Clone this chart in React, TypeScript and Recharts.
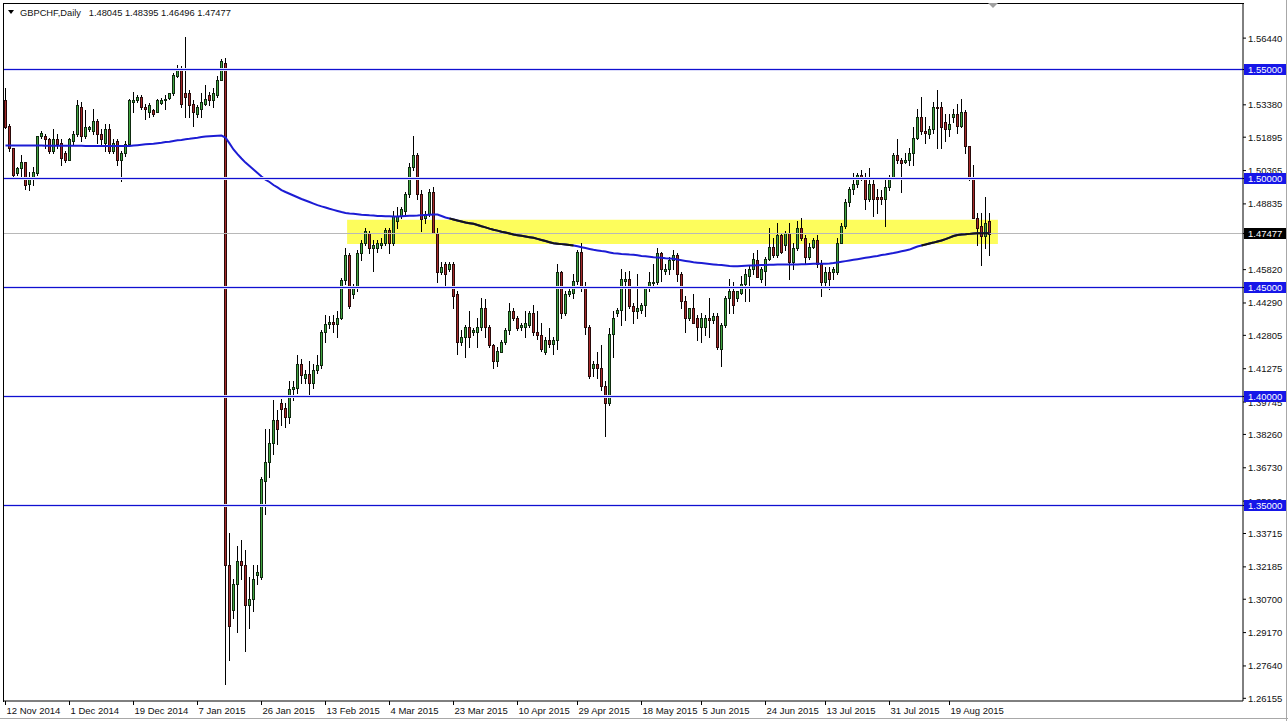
import React from 'react';
import { ComposedChart, Bar, Line, XAxis, YAxis, ReferenceLine, ReferenceArea } from 'recharts';

const FONT = '"Liberation Sans", Arial, sans-serif';

const symbolName = 'GBPCHF,Daily';

// daily bars, [open, high, low, close]
const candles: number[][] = [
  [1.5358, 1.5413, 1.5230, 1.5234], [1.5239, 1.5248, 1.5128, 1.5142], [1.5138, 1.5142, 1.5005, 1.5014], [1.5023, 1.5055, 1.5014, 1.5046], [1.5046, 1.5110, 1.5000, 1.5074],
  [1.5074, 1.5078, 1.4950, 1.4968], [1.4977, 1.5028, 1.4945, 1.5005], [1.5000, 1.5055, 1.4968, 1.5032], [1.5023, 1.5197, 1.5018, 1.5193], [1.5193, 1.5216, 1.5188, 1.5211],
  [1.5197, 1.5206, 1.5142, 1.5179], [1.5183, 1.5188, 1.5115, 1.5128], [1.5124, 1.5225, 1.5115, 1.5179], [1.5183, 1.5206, 1.5138, 1.5160], [1.5165, 1.5183, 1.5060, 1.5092],
  [1.5115, 1.5124, 1.5078, 1.5083], [1.5087, 1.5188, 1.5083, 1.5179], [1.5174, 1.5216, 1.5160, 1.5206], [1.5206, 1.5358, 1.5197, 1.5335], [1.5326, 1.5353, 1.5170, 1.5193],
  [1.5193, 1.5312, 1.5188, 1.5234], [1.5225, 1.5243, 1.5220, 1.5234], [1.5220, 1.5321, 1.5206, 1.5266], [1.5266, 1.5275, 1.5165, 1.5202], [1.5202, 1.5225, 1.5160, 1.5183],
  [1.5165, 1.5252, 1.5124, 1.5229], [1.5229, 1.5252, 1.5115, 1.5128], [1.5128, 1.5183, 1.5115, 1.5165], [1.5170, 1.5183, 1.5060, 1.5087], [1.5087, 1.5124, 1.4987, 1.5115],
  [1.5115, 1.5174, 1.5105, 1.5160], [1.5160, 1.5367, 1.5156, 1.5358], [1.5353, 1.5399, 1.5303, 1.5362], [1.5362, 1.5385, 1.5353, 1.5376], [1.5376, 1.5381, 1.5321, 1.5326],
  [1.5330, 1.5344, 1.5271, 1.5317], [1.5303, 1.5348, 1.5280, 1.5339], [1.5312, 1.5321, 1.5289, 1.5298], [1.5307, 1.5367, 1.5303, 1.5358], [1.5348, 1.5371, 1.5344, 1.5362],
  [1.5358, 1.5381, 1.5321, 1.5367], [1.5371, 1.5394, 1.5367, 1.5390], [1.5390, 1.5486, 1.5381, 1.5477], [1.5472, 1.5519, 1.5464, 1.5505], [1.5505, 1.5514, 1.5326, 1.5344],
  [1.5390, 1.5647, 1.5280, 1.5376], [1.5390, 1.5404, 1.5280, 1.5335], [1.5344, 1.5358, 1.5243, 1.5303], [1.5298, 1.5335, 1.5280, 1.5326], [1.5321, 1.5390, 1.5280, 1.5353],
  [1.5344, 1.5427, 1.5335, 1.5367], [1.5381, 1.5399, 1.5339, 1.5358], [1.5358, 1.5417, 1.5330, 1.5390], [1.5381, 1.5468, 1.5376, 1.5454], [1.5454, 1.5546, 1.5450, 1.5537],
  // 15 Jan - SNB day
  [1.5532, 1.5555, 1.2683, 1.3227], [1.3227, 1.3376, 1.2789, 1.2946], [1.3019, 1.3165, 1.2982, 1.3139], [1.3139, 1.3314, 1.2920, 1.3244], [1.3244, 1.3340, 1.3165, 1.3227],
  [1.3227, 1.3298, 1.2832, 1.3042], [1.3042, 1.3174, 1.2937, 1.3069], [1.3069, 1.3227, 1.3016, 1.3165], [1.3179, 1.3227, 1.3139, 1.3193], [1.3174, 1.3630, 1.3165, 1.3621],
  [1.3612, 1.3849, 1.3463, 1.3700], [1.3700, 1.3849, 1.3630, 1.3787], [1.3787, 1.3982, 1.3736, 1.3893], [1.3893, 1.3937, 1.3780, 1.3849], [1.3972, 1.3990, 1.3867, 1.3943],
  [1.3946, 1.3972, 1.3858, 1.3906], [1.3906, 1.4069, 1.3877, 1.4034], [1.4034, 1.4069, 1.3982, 1.4044], [1.4039, 1.4191, 1.4016, 1.4147], [1.4147, 1.4174, 1.4060, 1.4098],
  [1.4087, 1.4121, 1.4064, 1.4104], [1.4104, 1.4165, 1.4000, 1.4060], [1.4060, 1.4147, 1.4039, 1.4121], [1.4121, 1.4191, 1.4109, 1.4144], [1.4144, 1.4306, 1.4130, 1.4296],
  [1.4296, 1.4376, 1.4252, 1.4332], [1.4333, 1.4367, 1.4314, 1.4340], [1.4344, 1.4376, 1.4296, 1.4332], [1.4332, 1.4393, 1.4271, 1.4362], [1.4362, 1.4542, 1.4354, 1.4533],
  [1.4533, 1.4683, 1.4516, 1.4647], [1.4647, 1.4656, 1.4408, 1.4417], [1.4472, 1.4518, 1.4454, 1.4505], [1.4500, 1.4670, 1.4486, 1.4656], [1.4656, 1.4716, 1.4624, 1.4702],
  [1.4702, 1.4771, 1.4693, 1.4757], [1.4752, 1.4761, 1.4656, 1.4683], [1.4683, 1.4716, 1.4578, 1.4697], [1.4679, 1.4720, 1.4661, 1.4706], [1.4697, 1.4725, 1.4679, 1.4706],
  [1.4702, 1.4775, 1.4693, 1.4766], [1.4766, 1.4775, 1.4656, 1.4706], [1.4706, 1.4853, 1.4693, 1.4830], [1.4807, 1.4867, 1.4771, 1.4830], [1.4826, 1.4867, 1.4821, 1.4858],
  [1.4853, 1.4936, 1.4839, 1.4931], [1.4931, 1.5069, 1.4917, 1.5055], [1.5055, 1.5193, 1.5037, 1.5106], [1.5106, 1.5115, 1.4904, 1.4931], [1.4931, 1.4945, 1.4761, 1.4812],
  [1.4821, 1.4853, 1.4798, 1.4839], [1.4839, 1.4954, 1.4830, 1.4936], [1.4936, 1.4959, 1.4748, 1.4752], [1.4752, 1.4771, 1.4523, 1.4569], [1.4569, 1.4615, 1.4560, 1.4596],
  [1.4606, 1.4615, 1.4509, 1.4560], [1.4587, 1.4619, 1.4578, 1.4610], [1.4610, 1.4615, 1.4408, 1.4463], [1.4472, 1.4486, 1.4197, 1.4252], [1.4252, 1.4303, 1.4234, 1.4271],
  [1.4271, 1.4326, 1.4179, 1.4317], [1.4317, 1.4394, 1.4225, 1.4275], [1.4294, 1.4312, 1.4284, 1.4303], [1.4294, 1.4362, 1.4225, 1.4317], [1.4317, 1.4450, 1.4303, 1.4408],
  [1.4408, 1.4445, 1.4271, 1.4317], [1.4317, 1.4326, 1.4225, 1.4234], [1.4234, 1.4243, 1.4133, 1.4165], [1.4165, 1.4225, 1.4142, 1.4211], [1.4206, 1.4257, 1.4202, 1.4248],
  [1.4248, 1.4312, 1.4239, 1.4303], [1.4303, 1.4427, 1.4289, 1.4394], [1.4394, 1.4404, 1.4349, 1.4358], [1.4358, 1.4367, 1.4303, 1.4312], [1.4317, 1.4335, 1.4307, 1.4326],
  [1.4317, 1.4394, 1.4271, 1.4335], [1.4326, 1.4390, 1.4317, 1.4381], [1.4381, 1.4422, 1.4280, 1.4294], [1.4294, 1.4394, 1.4266, 1.4280], [1.4280, 1.4339, 1.4211, 1.4220],
  [1.4202, 1.4271, 1.4197, 1.4257], [1.4261, 1.4312, 1.4225, 1.4243], [1.4243, 1.4271, 1.4197, 1.4261], [1.4261, 1.4610, 1.4220, 1.4569], [1.4569, 1.4578, 1.4358, 1.4385],
  [1.4381, 1.4486, 1.4372, 1.4472], [1.4472, 1.4495, 1.4463, 1.4482], [1.4477, 1.4564, 1.4450, 1.4532], [1.4532, 1.4670, 1.4518, 1.4661], [1.4661, 1.4702, 1.4486, 1.4500],
  [1.4500, 1.4523, 1.4289, 1.4317], [1.4317, 1.4326, 1.4087, 1.4092], [1.4133, 1.4165, 1.4096, 1.4151], [1.4151, 1.4202, 1.4087, 1.4133], [1.4133, 1.4234, 1.4028, 1.4050],
  [1.4050, 1.4073, 1.3817, 1.3968], [1.3968, 1.4312, 1.3959, 1.4289], [1.4289, 1.4394, 1.4179, 1.4358], [1.4385, 1.4404, 1.4367, 1.4399], [1.4399, 1.4587, 1.4326, 1.4541],
  [1.4532, 1.4569, 1.4349, 1.4541], [1.4537, 1.4578, 1.4408, 1.4413], [1.4417, 1.4427, 1.4339, 1.4394], [1.4394, 1.4564, 1.4362, 1.4404], [1.4399, 1.4431, 1.4381, 1.4422],
  [1.4422, 1.4509, 1.4367, 1.4500], [1.4500, 1.4569, 1.4486, 1.4527], [1.4523, 1.4610, 1.4500, 1.4527], [1.4527, 1.4679, 1.4518, 1.4656], [1.4656, 1.4661, 1.4532, 1.4583],
  [1.4578, 1.4610, 1.4564, 1.4587], [1.4583, 1.4638, 1.4564, 1.4624], [1.4624, 1.4670, 1.4587, 1.4647], [1.4647, 1.4656, 1.4532, 1.4564], [1.4564, 1.4569, 1.4408, 1.4440],
  [1.4440, 1.4463, 1.4294, 1.4362], [1.4358, 1.4408, 1.4349, 1.4404], [1.4404, 1.4472, 1.4335, 1.4339], [1.4362, 1.4372, 1.4257, 1.4317], [1.4317, 1.4381, 1.4248, 1.4362],
  [1.4317, 1.4372, 1.4280, 1.4358], [1.4362, 1.4450, 1.4271, 1.4349], [1.4353, 1.4381, 1.4339, 1.4367], [1.4367, 1.4381, 1.4220, 1.4225], [1.4220, 1.4335, 1.4142, 1.4326],
  [1.4326, 1.4463, 1.4317, 1.4454], [1.4454, 1.4541, 1.4381, 1.4482], [1.4482, 1.4523, 1.4381, 1.4422], [1.4454, 1.4486, 1.4436, 1.4482], [1.4477, 1.4555, 1.4472, 1.4514],
  [1.4514, 1.4587, 1.4440, 1.4560], [1.4555, 1.4601, 1.4436, 1.4583], [1.4583, 1.4656, 1.4564, 1.4633], [1.4628, 1.4674, 1.4546, 1.4550], [1.4541, 1.4592, 1.4523, 1.4583],
  [1.4578, 1.4638, 1.4500, 1.4633], [1.4633, 1.4771, 1.4624, 1.4688], [1.4688, 1.4725, 1.4638, 1.4647], [1.4647, 1.4794, 1.4638, 1.4739], [1.4739, 1.4752, 1.4656, 1.4661],
  [1.4693, 1.4761, 1.4670, 1.4748], [1.4748, 1.4798, 1.4541, 1.4615], [1.4615, 1.4702, 1.4587, 1.4683], [1.4683, 1.4807, 1.4670, 1.4775], [1.4775, 1.4821, 1.4716, 1.4725],
  [1.4725, 1.4739, 1.4610, 1.4638], [1.4638, 1.4702, 1.4633, 1.4688], [1.4688, 1.4729, 1.4679, 1.4716], [1.4716, 1.4739, 1.4592, 1.4610], [1.4610, 1.4624, 1.4463, 1.4527],
  [1.4527, 1.4592, 1.4509, 1.4569], [1.4569, 1.4592, 1.4495, 1.4541], [1.4569, 1.4592, 1.4537, 1.4583], [1.4569, 1.4729, 1.4564, 1.4706], [1.4706, 1.4798, 1.4702, 1.4784],
  [1.4784, 1.4908, 1.4775, 1.4890], [1.4890, 1.4959, 1.4872, 1.4950], [1.4950, 1.5023, 1.4931, 1.4977], [1.4977, 1.5023, 1.4959, 1.5014], [1.5014, 1.5037, 1.4991, 1.5005],
  [1.5005, 1.5023, 1.4862, 1.4908], [1.4908, 1.5050, 1.4899, 1.4977], [1.4977, 1.5000, 1.4830, 1.4908], [1.4913, 1.4954, 1.4844, 1.4908], [1.4913, 1.4945, 1.4885, 1.4908],
  [1.4908, 1.5000, 1.4784, 1.4959], [1.4959, 1.5014, 1.4945, 1.5005], [1.5005, 1.5119, 1.5000, 1.5110], [1.5110, 1.5179, 1.5073, 1.5087], [1.5087, 1.5096, 1.4936, 1.5069],
  [1.5078, 1.5119, 1.5069, 1.5083], [1.5083, 1.5138, 1.5060, 1.5115], [1.5115, 1.5234, 1.5060, 1.5188], [1.5188, 1.5321, 1.5183, 1.5284], [1.5284, 1.5372, 1.5206, 1.5220],
  [1.5220, 1.5280, 1.5165, 1.5211], [1.5202, 1.5239, 1.5188, 1.5225], [1.5225, 1.5353, 1.5211, 1.5326], [1.5330, 1.5408, 1.5142, 1.5326], [1.5326, 1.5353, 1.5142, 1.5234],
  [1.5257, 1.5298, 1.5174, 1.5229], [1.5229, 1.5298, 1.5197, 1.5252], [1.5280, 1.5321, 1.5257, 1.5298], [1.5298, 1.5344, 1.5211, 1.5243], [1.5243, 1.5367, 1.5234, 1.5303],
  [1.5303, 1.5312, 1.5115, 1.5147], [1.5147, 1.5151, 1.4991, 1.5005], [1.5005, 1.5060, 1.4821, 1.4821], [1.4821, 1.4844, 1.4693, 1.4775], [1.4780, 1.4844, 1.4601, 1.4734],
  [1.4734, 1.4913, 1.4683, 1.4798], [1.48045, 1.48395, 1.46496, 1.47477],
];

// moving average drawn on the chart, one value per bar
const movingAverage: number[] = [
  1.5151, 1.5151, 1.5151, 1.5151, 1.5151, 1.5151, 1.5151, 1.5151, 1.5151, 1.5151,
  1.5150, 1.5150, 1.5150, 1.5150, 1.5150, 1.5150, 1.5150, 1.5150, 1.5150, 1.5150,
  1.5149, 1.5149, 1.5149, 1.5149, 1.5149, 1.5149, 1.5149, 1.5149, 1.5149, 1.5149,
  1.5149, 1.5149, 1.5151, 1.5153, 1.5155, 1.5157, 1.5158, 1.5159, 1.5162, 1.5164,
  1.5167, 1.5169, 1.5172, 1.5175, 1.5177, 1.5180, 1.5182, 1.5185, 1.5187, 1.5190,
  1.5193, 1.5194, 1.5195, 1.5196, 1.5197, 1.5188, 1.5161, 1.5133, 1.5112, 1.5092,
  1.5073, 1.5057, 1.5041, 1.5025, 1.5009, 1.4995, 1.4984, 1.4970, 1.4959, 1.4947,
  1.4938, 1.4930, 1.4922, 1.4914, 1.4906, 1.4899, 1.4892, 1.4885, 1.4878, 1.4872,
  1.4867, 1.4861, 1.4856, 1.4851, 1.4846, 1.4842, 1.4839, 1.4838, 1.4836, 1.4834,
  1.4833, 1.4831, 1.4830, 1.4828, 1.4828, 1.4827, 1.4827, 1.4826, 1.4826, 1.4827,
  1.4828, 1.4829, 1.4829, 1.4830, 1.4832, 1.4833, 1.4834, 1.4835, 1.4835, 1.4828,
  1.4821, 1.4817, 1.4812, 1.4807, 1.4803, 1.4798, 1.4795, 1.4792, 1.4787, 1.4781,
  1.4776, 1.4770, 1.4765, 1.4761, 1.4756, 1.4752, 1.4748, 1.4743, 1.4740, 1.4737,
  1.4734, 1.4731, 1.4728, 1.4723, 1.4718, 1.4713, 1.4708, 1.4703, 1.4701, 1.4699,
  1.4697, 1.4695, 1.4693, 1.4689, 1.4685, 1.4681, 1.4677, 1.4673, 1.4670, 1.4667,
  1.4665, 1.4661, 1.4657, 1.4656, 1.4654, 1.4653, 1.4651, 1.4650, 1.4648, 1.4645,
  1.4643, 1.4641, 1.4639, 1.4638, 1.4636, 1.4634, 1.4633, 1.4632, 1.4628, 1.4625,
  1.4622, 1.4619, 1.4616, 1.4614, 1.4612, 1.4610, 1.4608, 1.4606, 1.4604, 1.4603,
  1.4601, 1.4599, 1.4598, 1.4598, 1.4599, 1.4600, 1.4601, 1.4601, 1.4602, 1.4603,
  1.4603, 1.4604, 1.4604, 1.4605, 1.4605, 1.4605, 1.4605, 1.4606, 1.4606, 1.4607,
  1.4607, 1.4608, 1.4609, 1.4609, 1.4609, 1.4609, 1.4610, 1.4612, 1.4615, 1.4618,
  1.4621, 1.4624, 1.4627, 1.4630, 1.4633, 1.4636, 1.4639, 1.4642, 1.4645, 1.4649,
  1.4651, 1.4655, 1.4658, 1.4662, 1.4666, 1.4670, 1.4674, 1.4681, 1.4688, 1.4693,
  1.4697, 1.4702, 1.4706, 1.4711, 1.4716, 1.4722, 1.4729, 1.4736, 1.4741, 1.4743,
  1.4744, 1.4746, 1.4748, 1.4749, 1.4749, 1.4749, 1.4749,
];

const dateTicks = [0, 16, 32, 48, 64, 80, 96, 112, 128, 143, 159, 174, 190, 205, 221, 236];
const dateLabels = [
  '12 Nov 2014', '1 Dec 2014', '19 Dec 2014', '7 Jan 2015', '26 Jan 2015', '13 Feb 2015', '4 Mar 2015', '23 Mar 2015',
  '10 Apr 2015', '29 Apr 2015', '18 May 2015', '5 Jun 2015', '24 Jun 2015', '13 Jul 2015', '31 Jul 2015', '19 Aug 2015',
];

// scale labels (the ones under the level tags are partly hidden)
const priceTicks = [
  1.5644, 1.5338, 1.51895, 1.50365, 1.48835, 1.4582, 1.4429, 1.42805, 1.41275,
  1.39745, 1.3826, 1.3673, 1.352, 1.33715, 1.32185, 1.307, 1.2917, 1.2764, 1.26155,
];

// horizontal levels drawn by hand
const levels = [1.55, 1.5, 1.45, 1.4, 1.35];

// yellow support/resistance zone (bar position from/to, price low/high)
const zoneFrom = 85.4;
const zoneTo = 248.1;
const zoneLow = 1.47;
const zoneHigh = 1.4811;

const priceDomain = [1.26032, 1.58005];
const barDomain = [-0.375, 309.375];

const rows = candles.map(([o, h, l, c], i) => {
  const m = movingAverage[i];
  const inZone = i >= zoneFrom && m >= zoneLow - 0.0007 && m <= zoneHigh + 0.0007;
  return { i, o, h, l, c, ma: m, maZone: inZone ? m : null };
});

const last = candles[candles.length - 1];
const lastClose = last[3];

// tags go last so they are painted over the plain scale labels
const axisTicks = [...priceTicks, ...levels, lastClose];

const Candle = (props: any) => {
  const { x, y, width, height, payload } = props;
  if (payload == null || height == null) return null;
  const { o, h, l, c } = payload;
  const top = Math.min(y, y + height);
  const bottom = Math.max(y, y + height);
  const py = (p: number) => top + ((h - p) / (h - l || 1)) * (bottom - top);
  const cx = Math.floor(x + width / 2) + 0.5;
  const bull = c >= o;
  const bTop = Math.round(py(Math.max(o, c))) + 0.5;
  let bBot = Math.round(py(Math.min(o, c))) + 0.5;
  if (bBot - bTop < 1) bBot = bTop + 1;
  return (
    <g shapeRendering="crispEdges">
      <line x1={cx} x2={cx} y1={Math.round(py(h))} y2={Math.round(py(l)) + 1} stroke="#000" strokeWidth={1} />
      <rect
        x={cx - 1}
        y={bTop}
        width={2}
        height={bBot - bTop}
        fill={bull ? '#41a541' : '#a52a2a'}
        stroke={bull ? '#0f2a0f' : '#2a0a0a'}
        strokeWidth={1}
      />
    </g>
  );
};

// level line: one-pixel navy band with a faint blue edge on each side
const LevelLine = (props: any) => {
  const { x1, x2, y1 } = props;
  if (x1 == null || y1 == null) return null;
  const row = Math.floor(y1);
  const left = Math.min(x1, x2);
  const w = Math.abs(x2 - x1);
  return (
    <g shapeRendering="crispEdges">
      <rect x={left} y={row - 1} width={w} height={3} fill="#dcdcfa" />
      <rect x={left} y={row} width={w} height={1} fill="#1010d0" />
    </g>
  );
};

const PriceTick = (props: any) => {
  const { x, y, payload } = props;
  const v = Number(payload.value);
  const isLevel = levels.includes(v);
  const isClose = v === lastClose;
  if (isLevel || isClose) {
    const yy = Math.floor(y);
    return (
      <g shapeRendering="crispEdges">
        <rect x={x - 4} y={yy - 5} width={42} height={11} fill={isClose ? '#000' : '#1616e8'} />
        <text x={x} y={yy + 4} fill="#fff" fontSize={9.5} fontFamily={FONT}>
          {v.toFixed(5)}
        </text>
      </g>
    );
  }
  return (
    <text x={x} y={y + 3.5} fontSize={9.5} fontFamily={FONT} fill="#111">
      {v.toFixed(5)}
    </text>
  );
};

const DateTick = (props: any) => {
  const { x, y, payload } = props;
  const k = dateTicks.indexOf(payload.value);
  return (
    <text x={x + 1} y={y + 7} fontSize={9.5} fontFamily={FONT} fill="#111">
      {k >= 0 ? dateLabels[k] : ''}
    </text>
  );
};

export default function App() {
  return (
    <div style={{ position: 'absolute', left: 0, top: 0, width: 1288, height: 721, background: '#fff', overflow: 'hidden' }}>
      <ComposedChart
        width={1288}
        height={721}
        data={rows}
        margin={{ top: 4, right: 0, bottom: 0, left: 4 }}
      >
        <XAxis
          dataKey="i"
          type="number"
          domain={barDomain}
          ticks={dateTicks}
          allowDataOverflow
          height={20}
          tickSize={4}
          tickMargin={2}
          axisLine={{ stroke: '#000' }}
          tickLine={{ stroke: '#000' }}
          tick={<DateTick />}
          interval={0}
        />
        <YAxis
          orientation="right"
          type="number"
          domain={priceDomain}
          ticks={axisTicks}
          allowDataOverflow
          width={45}
          tickSize={3}
          tickMargin={2}
          axisLine={{ stroke: '#000' }}
          tickLine={{ stroke: '#000' }}
          tick={<PriceTick />}
          interval={0}
        />
        <ReferenceArea
          x1={zoneFrom}
          x2={zoneTo}
          y1={zoneLow}
          y2={zoneHigh}
          fill="#fdfd5c"
          fillOpacity={1}
          stroke="none"
        />
        <ReferenceLine y={lastClose} stroke="#b8b8b8" strokeWidth={1} />
        <Bar dataKey={(d: any) => [d.l, d.h]} barSize={4} shape={<Candle />} isAnimationActive={false} />
        <Line dataKey="ma" stroke="#1c1cd4" strokeWidth={2} dot={false} isAnimationActive={false} />
        <Line dataKey="maZone" stroke="#141414" strokeWidth={2} dot={false} isAnimationActive={false} connectNulls={false} />
        {levels.map((lv) => (
          <ReferenceLine key={lv} y={lv} stroke="#1010d0" shape={(p: any) => <LevelLine {...p} />} />
        ))}
      </ComposedChart>
      {/* chart frame, top and left */}
      <div style={{ position: 'absolute', left: 3, top: 3, width: 1240, height: 698, borderLeft: '1px solid #000', borderTop: '1px solid #000', pointerEvents: 'none' }} />
      {/* window edges */}
      <div style={{ position: 'absolute', left: 0, top: 718, width: 1288, height: 1, background: '#a8a8a8' }} />
      <div style={{ position: 'absolute', left: 1286, top: 0, width: 1, height: 721, background: '#a8a8a8' }} />
      {/* chart shift marker */}
      <div style={{ position: 'absolute', left: 988, top: 3, width: 0, height: 0, borderLeft: '5px solid transparent', borderRight: '5px solid transparent', borderTop: '5px solid #a0a0a0' }} />
      {/* title */}
      <div style={{ position: 'absolute', left: 8, top: 10, width: 0, height: 0, borderLeft: '3.5px solid transparent', borderRight: '3.5px solid transparent', borderTop: '4px solid #000' }} />
      <div style={{ position: 'absolute', left: 20, top: 8, fontFamily: FONT, fontSize: 9.3, lineHeight: '11px', whiteSpace: 'pre', color: '#111' }}>
        {`${symbolName}   ${last[0].toFixed(5)} ${last[1].toFixed(5)} ${last[2].toFixed(5)} ${lastClose.toFixed(5)}`}
      </div>
    </div>
  );
}
